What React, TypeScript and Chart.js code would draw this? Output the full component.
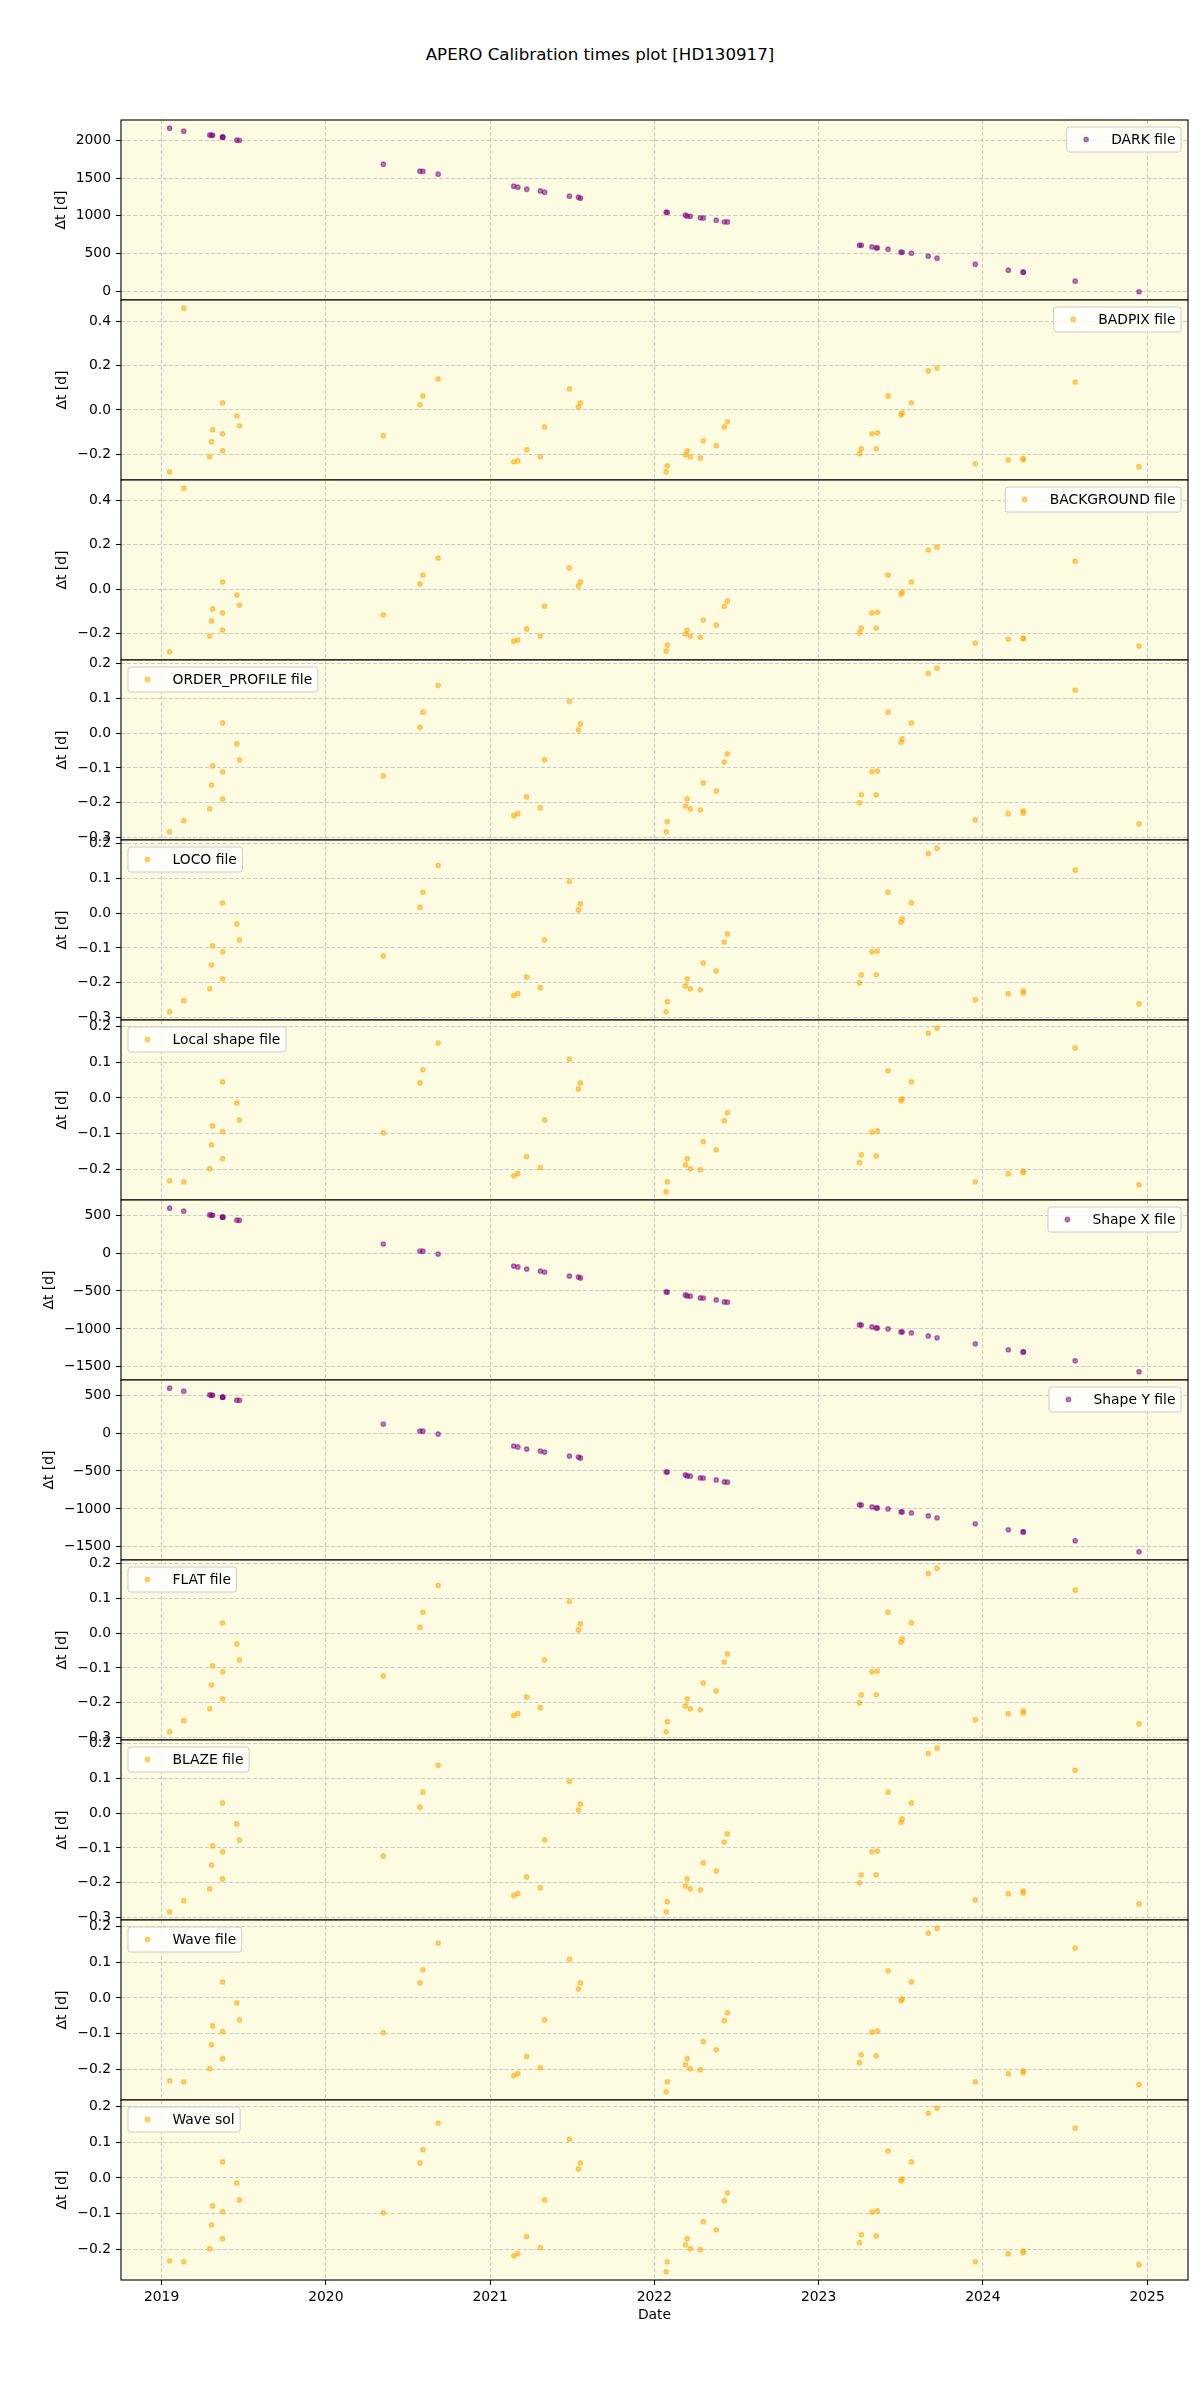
import React, { useEffect, useRef } from 'react';
import { Chart, registerables } from 'chart.js';

Chart.register(...registerables);

const FONT = '"DejaVu Sans", Verdana, sans-serif';

// Observation dates (decimal years)
const dates = [
  2019.049, 2019.135, 2019.293, 2019.304, 2019.311, 2019.372, 2019.372, 2019.372, 2019.458, 2019.474,
  2020.350, 2020.573, 2020.591, 2020.684,
  2021.144, 2021.169, 2021.223, 2021.306, 2021.332, 2021.483, 2021.538, 2021.550,
  2022.072, 2022.079, 2022.189, 2022.200, 2022.219, 2022.280, 2022.298, 2022.377, 2022.426, 2022.445,
  2023.249, 2023.260, 2023.325, 2023.351, 2023.358, 2023.423, 2023.502, 2023.509, 2023.565, 2023.668, 2023.721,
  2023.954, 2024.155, 2024.246, 2024.246, 2024.562, 2024.951,
];

const darkDt = [
  2159, 2119, 2068, 2066, 2064, 2040, 2040, 2040, 2000, 1998,
  1683, 1590, 1588, 1551,
  1392, 1379, 1352, 1330, 1313, 1260, 1247, 1233,
  1048, 1046, 1009, 996, 994, 974, 972, 943, 921, 919,
  612, 610, 590, 577, 575, 559, 520, 518, 507, 467, 440,
  361, 282, 255, 255, 137, -4,
];

const badpixDt = [
  -0.280, 0.460, -0.212, -0.144, -0.090, 0.032, -0.108, -0.185, -0.027, -0.072,
  -0.117, 0.023, 0.063, 0.140,
  -0.235, -0.230, -0.180, -0.212, -0.077, 0.095, 0.014, 0.032,
  -0.280, -0.253, -0.203, -0.185, -0.212, -0.217, -0.140, -0.162, -0.077, -0.054,
  -0.198, -0.176, -0.108, -0.176, -0.104, 0.063, -0.023, -0.014, 0.032, 0.176, 0.189,
  -0.244, -0.226, -0.221, -0.224, 0.126, -0.257,
];

const backgroundDt = [
  -0.283, 0.455, -0.212, -0.144, -0.090, 0.032, -0.108, -0.185, -0.027, -0.072,
  -0.117, 0.023, 0.063, 0.140,
  -0.235, -0.230, -0.180, -0.212, -0.077, 0.095, 0.014, 0.032,
  -0.280, -0.253, -0.203, -0.185, -0.212, -0.217, -0.140, -0.162, -0.077, -0.054,
  -0.198, -0.176, -0.108, -0.176, -0.104, 0.063, -0.023, -0.014, 0.032, 0.176, 0.189,
  -0.244, -0.226, -0.221, -0.224, 0.126, -0.257,
];

const orderProfileDt = [
  -0.283, -0.251, -0.217, -0.149, -0.094, 0.029, -0.111, -0.189, -0.031, -0.077,
  -0.123, 0.017, 0.060, 0.137,
  -0.237, -0.231, -0.183, -0.214, -0.077, 0.091, 0.009, 0.026,
  -0.283, -0.254, -0.209, -0.189, -0.217, -0.220, -0.143, -0.166, -0.083, -0.060,
  -0.200, -0.177, -0.111, -0.177, -0.109, 0.060, -0.026, -0.017, 0.029, 0.171, 0.186,
  -0.249, -0.231, -0.223, -0.229, 0.123, -0.260,
];

const locoDt = [...orderProfileDt];
const flatDt = [...orderProfileDt];
const blazeDt = [...orderProfileDt];

const localShapeDt = [
  -0.233, -0.236, -0.199, -0.132, -0.079, 0.045, -0.095, -0.171, -0.014, -0.062,
  -0.098, 0.042, 0.079, 0.154,
  -0.219, -0.213, -0.165, -0.196, -0.062, 0.109, 0.025, 0.042,
  -0.264, -0.236, -0.188, -0.171, -0.199, -0.202, -0.123, -0.146, -0.064, -0.042,
  -0.182, -0.160, -0.096, -0.163, -0.093, 0.076, -0.008, -0.003, 0.045, 0.182, 0.196,
  -0.236, -0.213, -0.205, -0.210, 0.140, -0.244,
];

const waveFileDt = [...localShapeDt];
const waveSolDt = [...localShapeDt];

const shapeXDt = [
  592, 553, 502, 500, 498, 474, 474, 474, 434, 432,
  118, 26, 24, -13,
  -171, -184, -211, -237, -250, -303, -316, -329,
  -513, -515, -553, -566, -568, -592, -594, -618, -645, -647,
  -947, -949, -974, -987, -989, -1000, -1039, -1041, -1053, -1092, -1118,
  -1197, -1276, -1303, -1303, -1421, -1566,
];

const shapeYDt = [...shapeXDt];

const xTickYears = [2019, 2020, 2021, 2022, 2023, 2024, 2025];
const X_MIN = 2018.753;
const X_MAX = 2025.249;

const PURPLE = 'rgba(128,0,128,0.5)';
const ORANGE = 'rgba(255,165,0,0.5)';

type Panel = { label: string; values: number[]; color: string; step: number; legendPos: 'left' | 'right' };

const panels: Panel[] = [
  { label: 'DARK file', values: darkDt, color: PURPLE, step: 500, legendPos: 'right' },
  { label: 'BADPIX file', values: badpixDt, color: ORANGE, step: 0.2, legendPos: 'right' },
  { label: 'BACKGROUND file', values: backgroundDt, color: ORANGE, step: 0.2, legendPos: 'right' },
  { label: 'ORDER_PROFILE file', values: orderProfileDt, color: ORANGE, step: 0.1, legendPos: 'left' },
  { label: 'LOCO file', values: locoDt, color: ORANGE, step: 0.1, legendPos: 'left' },
  { label: 'Local shape file', values: localShapeDt, color: ORANGE, step: 0.1, legendPos: 'left' },
  { label: 'Shape X file', values: shapeXDt, color: PURPLE, step: 500, legendPos: 'right' },
  { label: 'Shape Y file', values: shapeYDt, color: PURPLE, step: 500, legendPos: 'right' },
  { label: 'FLAT file', values: flatDt, color: ORANGE, step: 0.1, legendPos: 'left' },
  { label: 'BLAZE file', values: blazeDt, color: ORANGE, step: 0.1, legendPos: 'left' },
  { label: 'Wave file', values: waveFileDt, color: ORANGE, step: 0.1, legendPos: 'left' },
  { label: 'Wave sol', values: waveSolDt, color: ORANGE, step: 0.1, legendPos: 'left' },
];

const TITLE = 'APERO Calibration times plot [HD130917]';
const PLOT_LEFT = 121;
const PLOT_RIGHT = 1188;
const PLOT_TOP = 120;
const PANEL_H = 180;
const PAD = 24;
const BOTTOM_EXTRA = 120;
const BG = 'rgb(253,251,226)';
const GRID = 'rgba(176,176,176,0.6)';
const FS = 13.9;
const POINT_R = 2.2;
const POINT_BW = 1.4;

function fmtTick(v: number, step: number): string {
  let s: string;
  if (step >= 1) s = String(Math.round(v));
  else {
    s = v.toFixed(1);
    if (s === '-0.0') s = '0.0';
  }
  return s.replace('-', '\u2212');
}

function makeChart(canvas: HTMLCanvasElement, p: Panel, i: number, isLast: boolean): Chart {
  const lo = Math.min(...p.values);
  const hi = Math.max(...p.values);
  const m = 0.05 * (hi - lo);
  const yMin = lo - m;
  const yMax = hi + m;
  const yTicks: number[] = [];
  for (let k = Math.ceil(yMin / p.step - 1e-9); k <= Math.floor(yMax / p.step + 1e-9); k++) {
    yTicks.push(Math.round(k * p.step * 1e6) / 1e6);
  }
  const canvasTop = PLOT_TOP + i * PANEL_H - PAD;

  const decor = {
    id: 'decor' + i,
    beforeDraw(chart: any) {
      const { ctx, chartArea: a } = chart;
      ctx.save();
      ctx.fillStyle = BG;
      ctx.fillRect(a.left, a.top, a.right - a.left, a.bottom - a.top);
      ctx.restore();
    },
    afterDraw(chart: any) {
      const { ctx, chartArea: a } = chart;
      ctx.save();
      // frame
      ctx.strokeStyle = '#000';
      ctx.lineWidth = 1.1;
      ctx.strokeRect(a.left, a.top, a.right - a.left, a.bottom - a.top);

      // legend
      ctx.font = `${FS}px ${FONT}`;
      const tw = ctx.measureText(p.label).width;
      const bp = 0.4 * FS;
      const bw = bp + 2 * FS + 0.8 * FS + tw + bp;
      const bh = 25;
      const bx = p.legendPos === 'left' ? a.left + 7 : a.right - 7 - bw;
      const by = a.top + 7;
      const r = 2.8;
      ctx.beginPath();
      ctx.moveTo(bx + r, by);
      ctx.lineTo(bx + bw - r, by);
      ctx.arcTo(bx + bw, by, bx + bw, by + r, r);
      ctx.lineTo(bx + bw, by + bh - r);
      ctx.arcTo(bx + bw, by + bh, bx + bw - r, by + bh, r);
      ctx.lineTo(bx + r, by + bh);
      ctx.arcTo(bx, by + bh, bx, by + bh - r, r);
      ctx.lineTo(bx, by + r);
      ctx.arcTo(bx, by, bx + r, by, r);
      ctx.closePath();
      ctx.fillStyle = 'rgba(255,255,255,0.8)';
      ctx.fill();
      ctx.strokeStyle = '#cccccc';
      ctx.lineWidth = 1;
      ctx.stroke();
      ctx.beginPath();
      ctx.arc(bx + bp + FS, by + bh / 2, POINT_R, 0, Math.PI * 2);
      ctx.fillStyle = p.color;
      ctx.fill();
      ctx.strokeStyle = p.color;
      ctx.lineWidth = POINT_BW;
      ctx.stroke();
      ctx.fillStyle = '#000';
      ctx.textAlign = 'left';
      ctx.textBaseline = 'middle';
      ctx.fillText(p.label, bx + bp + 2.8 * FS, by + bh / 2 + 0.5);

      // y label
      let maxW = 0;
      for (const v of yTicks) {
        maxW = Math.max(maxW, ctx.measureText(fmtTick(v, p.step)).width);
      }
      const labelLeft = a.left - 10 - maxW;
      ctx.save();
      ctx.translate(labelLeft - 14.7, (a.top + a.bottom) / 2);
      ctx.rotate(-Math.PI / 2);
      ctx.textAlign = 'center';
      ctx.textBaseline = 'middle';
      ctx.fillText('\u0394t [d]', 0, 0);
      ctx.restore();

      if (isLast) {
        ctx.textAlign = 'center';
        ctx.textBaseline = 'middle';
        ctx.fillText('Date', (a.left + a.right) / 2, 2315 - canvasTop);
      }
      ctx.restore();
    },
  };

  return new Chart(canvas, {
    type: 'scatter',
    data: {
      datasets: [
        {
          label: p.label,
          data: dates.map((d, k) => ({ x: d, y: p.values[k] })),
          backgroundColor: p.color,
          borderColor: p.color,
          pointRadius: POINT_R,
          pointHoverRadius: POINT_R,
          pointBorderWidth: POINT_BW,
        },
      ],
    },
    options: {
      responsive: false,
      animation: false,
      devicePixelRatio: 1,
      events: [],
      layout: { padding: { top: PAD, left: 0, right: 1200 - PLOT_RIGHT, bottom: 0 } },
      plugins: {
        legend: { display: false },
        tooltip: { enabled: false },
        title: { display: false },
      },
      scales: {
        x: {
          type: 'linear',
          min: X_MIN,
          max: X_MAX,
          afterBuildTicks: (s: any) => {
            s.ticks = xTickYears.map((v) => ({ value: v }));
          },
          afterFit: (s: any) => {
            s.height = isLast ? BOTTOM_EXTRA : PAD;
          },
          grid: {
            color: GRID,
            lineWidth: 1,
            drawTicks: isLast,
            tickLength: 5,
            tickColor: '#000',
            tickWidth: 1.1,
            tickBorderDash: [],
          },
          border: { display: false, dash: [4, 2] },
          ticks: {
            display: isLast,
            autoSkip: false,
            maxRotation: 0,
            padding: 4,
            color: '#000',
            font: { family: FONT, size: FS },
            callback: (v: any) => String(v),
          },
        },
        y: {
          type: 'linear',
          min: yMin,
          max: yMax,
          afterBuildTicks: (s: any) => {
            s.ticks = yTicks.map((v) => ({ value: v }));
          },
          afterFit: (s: any) => {
            s.width = PLOT_LEFT;
          },
          grid: {
            color: GRID,
            lineWidth: 1,
            drawTicks: true,
            tickLength: 5,
            tickColor: '#000',
            tickWidth: 1.1,
            tickBorderDash: [],
          },
          border: { display: false, dash: [4, 2] },
          ticks: {
            padding: 5,
            color: '#000',
            font: { family: FONT, size: FS },
            callback: (v: any) => fmtTick(Number(v), p.step),
          },
        },
      },
    } as any,
    plugins: [decor],
  });
}

export default function App() {
  const refs = useRef<(HTMLCanvasElement | null)[]>([]);

  useEffect(() => {
    const charts = panels.map((p, i) => makeChart(refs.current[i] as HTMLCanvasElement, p, i, i === panels.length - 1));
    return () => charts.forEach((c) => c.destroy());
  }, []);

  return (
    <div style={{ position: 'absolute', left: 0, top: 0, width: 1200, height: 2400, background: '#fff', overflow: 'hidden' }}>
      <div
        style={{
          position: 'absolute',
          left: 0,
          top: 43,
          width: 1200,
          textAlign: 'center',
          fontFamily: FONT,
          fontSize: '16.67px',
          lineHeight: '24px',
          color: '#000',
        }}
      >
        {TITLE}
      </div>
      {panels.map((p, i) => {
        const isLast = i === panels.length - 1;
        const top = PLOT_TOP + i * PANEL_H - PAD;
        const h = PANEL_H + PAD + (isLast ? BOTTOM_EXTRA : PAD);
        return (
          <canvas
            key={p.label}
            ref={(el) => {
              refs.current[i] = el;
            }}
            width={1200}
            height={h}
            style={{ position: 'absolute', left: 0, top, width: 1200, height: h }}
          />
        );
      })}
    </div>
  );
}
